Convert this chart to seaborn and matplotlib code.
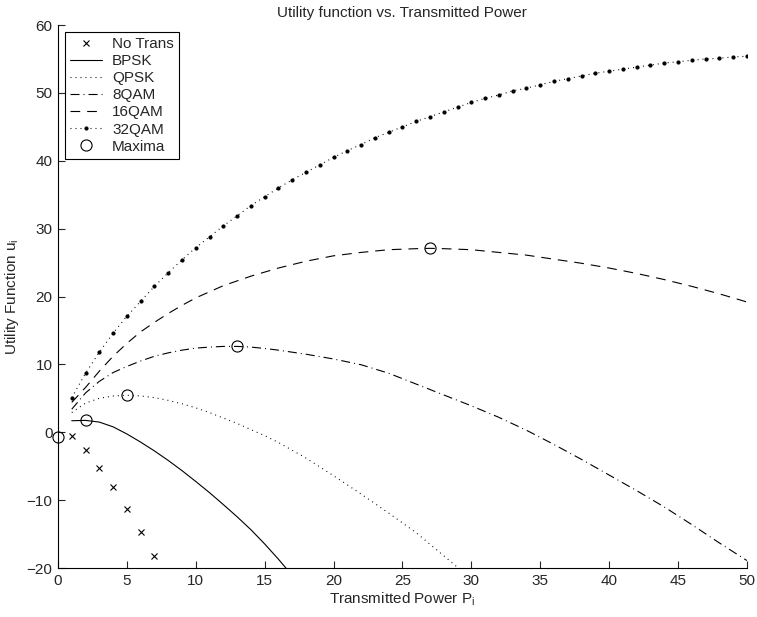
import matplotlib
matplotlib.use('Agg')
import matplotlib.pyplot as plt
import pandas as pd
import seaborn as sns

# values
p_notrans = [1, 2, 3, 4, 5, 6, 7]
u_notrans = [-0.6, -2.6, -5.2, -8.1, -11.3, -14.7, -18.3]

p_bpsk = list(range(1, 18))
u_bpsk = [1.7, 1.75, 1.5, 0.8, -0.25, -1.45, -2.75, -4.15, -5.65, -7.25,
          -8.9, -10.65, -12.45, -14.35, -16.45, -18.7, -21.1]

p_qpsk = [1, 2, 3, 4, 5, 6, 7, 8, 9, 10, 11, 12, 13, 14, 15, 16,
          18, 20, 22, 24, 26, 28, 29, 30]
u_qpsk = [2.9, 4.3, 5.0, 5.35, 5.45, 5.35, 5.1, 4.7, 4.2, 3.6, 2.9, 2.1,
          1.3, 0.4, -0.5, -1.5, -3.8, -6.4, -9.1, -11.9, -14.8, -18.2,
          -19.9, -21.6]

p_8qam = [1, 2, 3, 4, 5, 6, 7, 8, 9, 10, 11, 12, 13, 14, 15, 16, 18, 20,
          22, 24, 26, 28, 30, 32, 34, 36, 38, 40, 42, 44, 46, 48, 50]
u_8qam = [3.4, 5.8, 7.5, 8.8, 9.7, 10.5, 11.2, 11.7, 12.1, 12.4, 12.55,
          12.65, 12.65, 12.55, 12.35, 12.1, 11.5, 10.8, 9.95, 8.7, 7.1,
          5.5, 3.9, 2.2, 0.3, -1.8, -4.0, -6.3, -8.6, -11.0, -13.6,
          -16.3, -18.9]

p_16qam = [1, 2, 3, 4, 5, 6, 7, 8, 9, 10, 12, 14, 16, 18, 20, 22, 24, 26,
           27, 28, 30, 32, 34, 36, 38, 40, 42, 44, 46, 48, 50]
u_16qam = [4.4, 6.6, 9.0, 11.2, 13.1, 14.8, 16.2, 17.5, 18.7, 19.8, 21.6,
           23.0, 24.2, 25.2, 26.0, 26.5, 26.9, 27.05, 27.1, 27.05, 26.9,
           26.5, 26.1, 25.5, 24.9, 24.2, 23.4, 22.5, 21.5, 20.4, 19.2]

p_32qam = list(range(1, 51))
u_32qam = [5.1, 8.7, 11.8, 14.6, 17.1, 19.3, 21.5, 23.5, 25.4,
           27.2, 28.8, 30.4, 31.9, 33.4, 34.7, 36.0, 37.2,
           38.3, 39.4, 40.5, 41.5, 42.4, 43.4, 44.2, 45.0, 45.8, 46.5,
           47.2, 47.9, 48.6, 49.2, 49.7, 50.3, 50.7, 51.2,
           51.7, 52.1, 52.5, 52.9, 53.2, 53.5, 53.8, 54.1, 54.4, 54.6,
           54.8, 55.0, 55.1, 55.3, 55.4]

p_max = [0, 2, 5, 13, 27]
u_max = [-0.65, 1.75, 5.45, 12.65, 27.1]

sns.set_style('white')
plt.rcParams['font.family'] = ['Liberation Sans', 'DejaVu Sans']
plt.rcParams['mathtext.default'] = 'regular'
plt.rcParams['lines.scale_dashes'] = False

fig = plt.figure(figsize=(7.57, 6.17), dpi=100)
ax = fig.add_axes([0.0766, 0.0794, 0.91, 0.880])


def draw(p, u, label, **kw):
    df = pd.DataFrame({'P': p, 'u': u})
    sns.lineplot(data=df, x='P', y='u', ax=ax, label=label, color='k',
                 errorbar=None, sort=False, markeredgecolor='k', **kw)


draw(p_notrans, u_notrans, 'No Trans', linestyle='none', marker='x',
     markersize=5, markeredgewidth=0.8)
draw(p_bpsk, u_bpsk, 'BPSK', linestyle='-', linewidth=0.8)
draw(p_qpsk, u_qpsk, 'QPSK', linestyle=(0, (0.7, 2.9)), linewidth=0.8)
draw(p_8qam, u_8qam, '8QAM', linestyle=(0, (6.5, 2.9, 0.7, 2.9)), linewidth=0.8)
draw(p_16qam, u_16qam, '16QAM', linestyle=(0, (7, 5)), linewidth=0.8)
draw(p_32qam, u_32qam, '32QAM', linestyle=(0, (0.7, 2.9)), linewidth=0.8,
     marker='.', markersize=4.5)
draw(p_max, u_max, 'Maxima', linestyle='none', marker='o', markersize=8,
     markerfacecolor='none', markeredgewidth=0.8, clip_on=False)

ax.set_xlim(0, 50)
ax.set_ylim(-20, 60)
ax.set_xticks(range(0, 51, 5))
ax.set_yticks(range(-20, 61, 10))
ax.tick_params(direction='in', length=5, width=0.8, labelsize=11,
               bottom=True, left=True, pad=4)
for s in ['top', 'right']:
    ax.spines[s].set_visible(False)
for s in ['left', 'bottom']:
    ax.spines[s].set_color('k')
    ax.spines[s].set_linewidth(0.8)

ax.set_title('Utility function vs. Transmitted Power', fontsize=11)
ax.set_xlabel('Transmitted Power P$_i$', fontsize=11, labelpad=2)
ax.set_ylabel('Utility Function u$_i$', fontsize=11, labelpad=4)

leg = ax.legend(loc='upper left', fontsize=11, frameon=True, fancybox=False,
                edgecolor='k', framealpha=1, borderaxespad=0.45,
                labelspacing=0.2, handlelength=2.1, handletextpad=0.65,
                borderpad=0.35)
leg.get_frame().set_linewidth(0.8)

plt.savefig('out.png', dpi=100)
plt.close()
